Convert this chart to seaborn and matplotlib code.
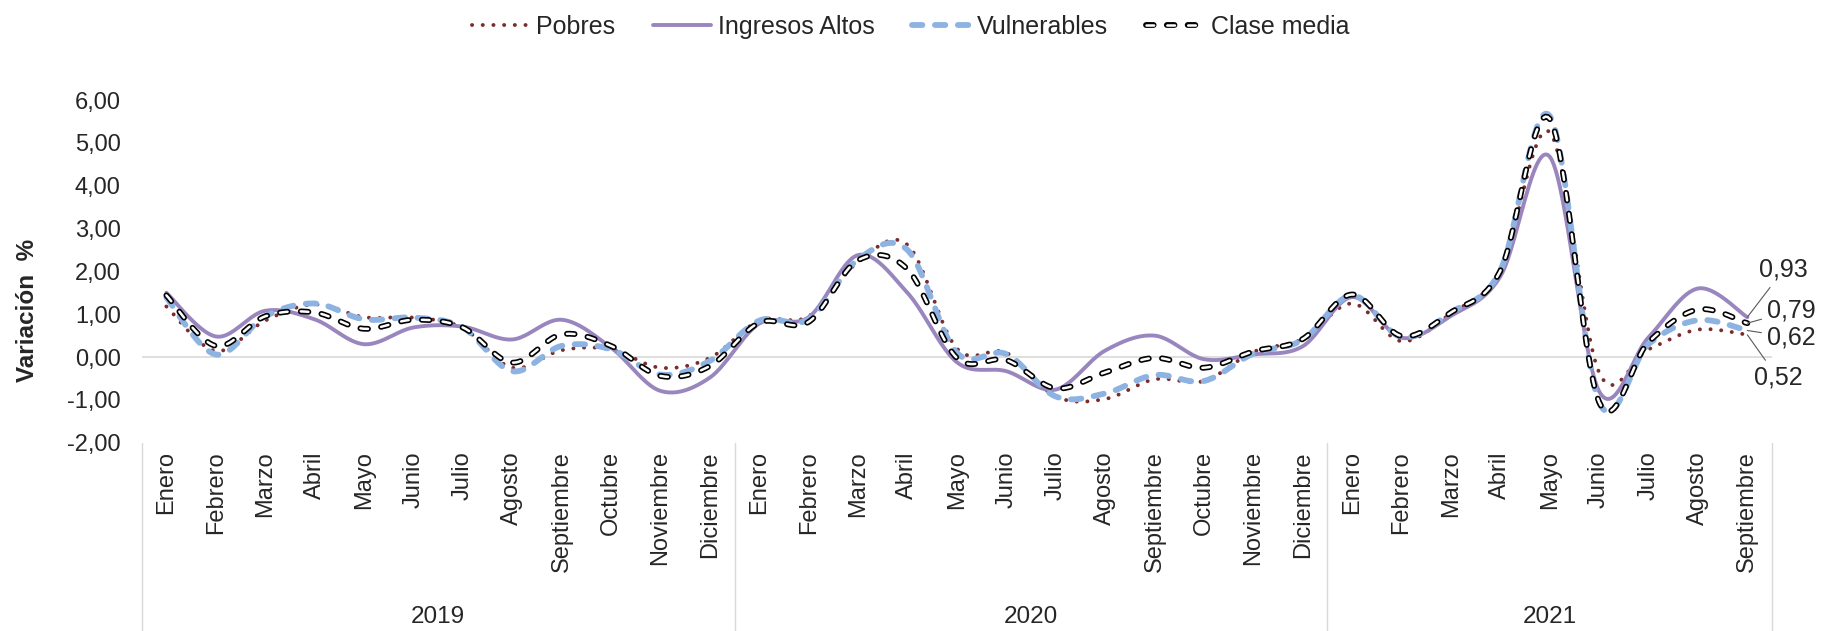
import numpy as np
import pandas as pd
import seaborn as sns
import matplotlib.pyplot as plt
import matplotlib.patheffects as pe

# --- datos (variación % mensual) ---
meses = ["Enero", "Febrero", "Marzo", "Abril", "Mayo", "Junio", "Julio", "Agosto",
         "Septiembre", "Octubre", "Noviembre", "Diciembre"]
anios = ["2019", "2020", "2021"]
meses_por_anio = [12, 12, 9]

pobres = [1.18, 0.14, 0.85, 1.23, 0.93, 0.92, 0.68, -0.25, 0.16, 0.18, -0.25, -0.02,
          0.85, 0.95, 2.22, 2.62, 0.20, 0.10, -0.92, -0.98, -0.52, -0.56, 0.12, 0.42,
          1.25, 0.37, 1.02, 2.00, 5.25, -0.36, 0.18, 0.64, 0.52]
ingresos_altos = [1.50, 0.48, 1.08, 0.88, 0.30, 0.69, 0.71, 0.41, 0.87, 0.22, -0.79, -0.48,
                  0.78, 0.93, 2.38, 1.50, -0.12, -0.33, -0.76, 0.15, 0.50, -0.05, 0.06, 0.25,
                  1.40, 0.45, 0.96, 1.88, 4.68, -0.80, 0.46, 1.60, 0.93]
vulnerables = [1.39, 0.06, 0.95, 1.25, 0.88, 0.92, 0.69, -0.33, 0.26, 0.18, -0.41, -0.09,
               0.85, 0.88, 2.28, 2.50, 0.10, 0.07, -0.92, -0.85, -0.42, -0.56, 0.08, 0.40,
               1.44, 0.47, 1.04, 2.02, 5.63, -1.05, 0.30, 0.86, 0.62]
clase_media = [1.44, 0.26, 0.95, 1.04, 0.66, 0.87, 0.69, -0.13, 0.53, 0.26, -0.44, -0.21,
               0.80, 0.82, 2.26, 2.05, -0.02, -0.07, -0.73, -0.36, -0.02, -0.25, 0.13, 0.42,
               1.46, 0.49, 1.04, 2.01, 5.56, -1.05, 0.35, 1.11, 0.79]

etiquetas_mes = [m for n in meses_por_anio for m in meses[:n]]


def suavizar(y, n=24):
    """Curva suavizada tipo Excel (Bezier cúbica entre puntos)."""
    y = np.asarray(y, dtype=float)
    x = np.arange(len(y), dtype=float)
    xp = np.concatenate([[x[0]], x, [x[-1]]])
    yp = np.concatenate([[y[0]], y, [y[-1]]])
    t = np.linspace(0, 1, n, endpoint=False)
    xs, ys = [], []
    for i in range(len(y) - 1):
        p0 = np.array([x[i], y[i]])
        p3 = np.array([x[i + 1], y[i + 1]])
        c1 = p0 + np.array([xp[i + 2] - xp[i], yp[i + 2] - yp[i]]) / 6
        c2 = p3 - np.array([xp[i + 3] - xp[i + 1], yp[i + 3] - yp[i + 1]]) / 6
        b = ((1 - t) ** 3)[:, None] * p0 + (3 * (1 - t) ** 2 * t)[:, None] * c1 \
            + (3 * (1 - t) * t ** 2)[:, None] * c2 + (t ** 3)[:, None] * p3
        xs.append(b[:, 0])
        ys.append(b[:, 1])
    xs.append([x[-1]])
    ys.append([y[-1]])
    return np.concatenate(xs), np.concatenate(ys)


sns.set_theme(style="white")
plt.rcParams["font.family"] = ["Liberation Sans", "DejaVu Sans"]
plt.rcParams["lines.scale_dashes"] = False

fig = plt.figure(figsize=(18.21, 6.31), dpi=100)
ax = fig.add_axes([0.0778, 0.2984, 0.8953, 0.5431])

series = [
    ("Pobres", pobres, dict(color="#7b2c2c", linewidth=2.8, linestyle=(0, (0.1, 7.6)),
                            dash_capstyle="round")),
    ("Ingresos Altos", ingresos_altos, dict(color="#9a86bf", linewidth=2.8)),
    ("Vulnerables", vulnerables, dict(color="#8db3e2", linewidth=4.2, linestyle=(0, (7.5, 9)),
                                      dash_capstyle="round")),
    ("Clase media", clase_media, dict(color="white", linewidth=1.8, linestyle=(0, (5.5, 9.5)),
                                      dash_capstyle="round",
                                      path_effects=[pe.Stroke(linewidth=4.2, foreground="black"),
                                                    pe.Normal()])),
]

for nombre, valores, estilo in series:
    xs, ys = suavizar(valores)
    df = pd.DataFrame({"x": xs, "y": ys})
    sns.lineplot(data=df, x="x", y="y", ax=ax, estimator=None, sort=False,
                 label=nombre, **estilo)

ax.axhline(0, color="#d9d9d9", linewidth=1.2, zorder=0)
ax.set_xlim(-0.5, len(etiquetas_mes) - 0.5)
ax.set_ylim(-2, 6)
for s in ax.spines.values():
    s.set_visible(False)

ax.set_yticks(range(-2, 7))
ax.set_yticklabels([f"{v:.2f}".replace(".", ",") for v in range(-2, 7)], fontsize=17)
ax.set_xticks(range(len(etiquetas_mes)))
ax.set_xticklabels(etiquetas_mes, rotation=90, fontsize=17)
ax.tick_params(axis="x", length=0, pad=6)
ax.tick_params(axis="y", length=0, pad=15)
ax.set_xlabel("")
ax.set_ylabel("")

# eje de categorías con años
trans = ax.get_xaxis_transform()
limites = np.concatenate([[0], np.cumsum(meses_por_anio)]) - 0.5
for b in limites:
    ax.plot([b, b], [0, -0.56], transform=trans, color="#d9d9d9", linewidth=1, clip_on=False)
for anio, a, b in zip(anios, limites[:-1], limites[1:]):
    ax.text((a + b) / 2, -0.509, anio, transform=trans, ha="center", va="center", fontsize=17.5)

fig.text(0.0152, 0.508, "Variación  %", rotation=90, fontweight="bold", fontsize=17.5,
         ha="center", va="center")

# etiquetas del último dato
desplazamientos = {"Ingresos Altos": (26, 34), "Clase media": (32, 9),
                   "Vulnerables": (32, -5), "Pobres": (22, -31)}
ultimo = len(etiquetas_mes) - 1
for nombre, valores, _ in series:
    ax.annotate(f"{valores[-1]:.2f}".replace(".", ","), xy=(ultimo, valores[-1]),
                xytext=desplazamientos[nombre], textcoords="offset points",
                ha="center", va="center", fontsize=18, annotation_clip=False,
                arrowprops=dict(arrowstyle="-", color="#595959", linewidth=0.8,
                                shrinkA=2, shrinkB=0))

handles, labels = ax.get_legend_handles_labels()
ax.get_legend().remove()
fig.legend(handles, labels, loc="upper center", bbox_to_anchor=(0.5, 1.012), ncol=4,
           frameon=False, fontsize=18, handlelength=2.3, handletextpad=0.3,
           columnspacing=1.5)

fig.savefig("out.png", dpi=100)
